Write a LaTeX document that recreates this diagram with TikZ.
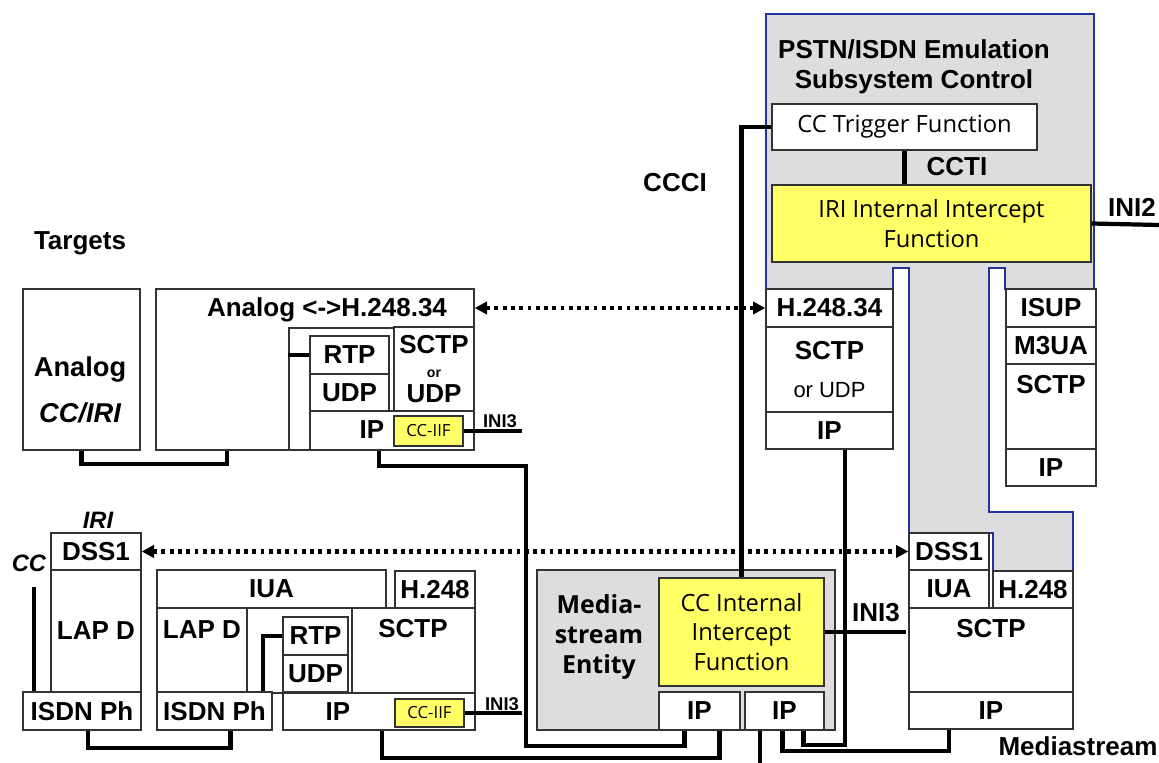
\documentclass[tikz,border=0pt]{standalone}
\usepackage{fontspec}
\setmainfont{Liberation Sans}
\newfontfamily\thinfont{Open Sans}
\usepackage{tikz}
\usetikzlibrary{arrows.meta, positioning, calc}

\definecolor{emugray}{HTML}{DDDDDD}
\definecolor{emublue}{HTML}{2233A0}
\definecolor{iifyellow}{HTML}{FFFF66}
\definecolor{boxline}{HTML}{333333}

\begin{document}
\begin{tikzpicture}[x=0.02cm, y=-0.02cm,
        cell/.style 2 args={minimum width=#1*0.02cm, minimum height=#2*0.02cm},
        stackbox/.style={draw=boxline, fill=white, line width=0.8pt, inner sep=0pt, align=center,
            font=\fontsize{14.8}{17}\selectfont\bfseries},
        iifbox/.style={stackbox, fill=iifyellow, font=\thinfont\fontsize{13.5}{17}\selectfont},
        smalliif/.style={stackbox, fill=iifyellow, font=\thinfont\fontsize{9.5}{11}\selectfont},
        tag/.style={font=\fontsize{14.8}{17}\selectfont\bfseries, inner sep=0pt, align=center},
        smalltag/.style={font=\fontsize{10.5}{12}\selectfont\bfseries, inner sep=0pt},
        link/.style={line width=2.4pt},
        signal/.style={line width=2.3pt, dash pattern=on 2.2pt off 2.5pt,
            {Triangle[length=7pt,width=7pt]}-{Triangle[length=7pt,width=7pt]}}]
    \fill[white] (0,0) rectangle (1159,763);
    \useasboundingbox (0,0) rectangle (1159,763);

    % emulation subsystem control
    \draw[emublue, fill=emugray, line width=0.6pt]
        (766,14) -- (1094,14) -- (1094,289) -- (1005,289) -- (1005,268) -- (989,268)
        -- (989,512) -- (1073,512) -- (1073,571) -- (993,571) -- (993,533) -- (909,533)
        -- (909,268) -- (893,268) -- (893,289) -- (766,289) -- cycle;
    \node[tag] (emutitle) at (914,67) {PSTN/ISDN Emulation\\Subsystem Control};
    \node[stackbox, cell={265}{46}, font=\thinfont\fontsize{13.5}{16}\selectfont] (trigger) at (904.5,127) {CC Trigger Function};
    \node[iifbox, cell={319}{77}] (iri) at (931.5,223.5) {IRI Internal Intercept\\Function};
    \node[tag] (cctilabel) at (957,167) {CCTI};
    \node[tag] (ini2label) at (1132,207) {INI2};
    \coordinate (ini2end) at (1159,225);
    \node[tag] (cccilabel) at (675,183) {CCCI};
    \node[tag] (targets) at (80,243) {Targets};

    % upper stacks
    \node[stackbox, cell={127}{38}] (h24834) at (829.5,308) {H.248.34};
    \node[stackbox, cell={127}{85}] (sctpH) at (829.5,369.5) {SCTP\\[5pt]{\mdseries\fontsize{12.5}{14}\selectfont or UDP}};
    \node[stackbox, cell={127}{37}] (ipH) at (829.5,430.5) {IP};
    \node[stackbox, cell={90}{38}] (isup) at (1051,308) {ISUP};
    \node[stackbox, cell={90}{37}] (m3ua) at (1051,345.5) {M3UA};
    \node[stackbox, cell={90}{85}] (sctpI) at (1051,406.5) {};
    \node[tag] (sctpItxt) at (1051,385) {SCTP};
    \node[stackbox, cell={90}{37}] (ipI) at (1051,467.5) {IP};

    % analog target
    \node[stackbox, cell={117}{161}] (analog) at (81.5,369.5) {};
    \node[tag, font=\fontsize{15.5}{18}\selectfont\bfseries] (analogtxt) at (80,390) {Analog\\[8pt]\itshape CC/IRI};
    \node[stackbox, cell={318}{161}] (ana248) at (315,369.5) {};
    \node[tag] (ana248txt) at (327,310) {Analog <->H.248.34};
    \node[stackbox, cell={185}{122}] (frameA) at (381.5,389) {};
    \node[stackbox, cell={79}{38}] (rtpA) at (349.5,355) {RTP};
    \node[stackbox, cell={79}{37}] (udpA) at (349.5,392.5) {UDP};
    \node[stackbox, cell={80}{84}] (sctpA) at (434,369) {SCTP\\[-3pt]{\fontsize{8}{9}\selectfont or}\\[-3pt]UDP};
    \node[stackbox, cell={164}{39}] (ipA) at (392,430.5) {};
    \node[tag] (ipAtxt) at (372,430) {IP};
    \node[smalliif, cell={69}{30}] (ccifA) at (428.5,431) {CC-IIF};
    \node[smalltag] (ini3atxt) at (500,421) {INI3};
    \coordinate (ini3a) at (522,431);

    % isdn target
    \node[tag, font=\fontsize{13.5}{16}\selectfont\bfseries\itshape] (irilabel) at (98,520) {IRI};
    \node[tag, font=\fontsize{13.5}{16}\selectfont\bfseries\itshape] (cclabel) at (29,563) {CC};
    \coordinate (cctop) at (34,587);
    \node[stackbox, cell={90}{37}] (dss1L) at (96,551.5) {DSS1};
    \node[stackbox, cell={90}{122}] (lapdL) at (96,631) {LAP D};
    \node[stackbox, cell={118}{38}] (isdnL) at (82,711) {ISDN Ph};

    % isdn access gateway
    \node[stackbox, cell={229}{38}] (iua) at (271.5,589) {IUA};
    \node[stackbox, cell={80}{37}] (h248B) at (435,589.5) {H.248};
    \node[stackbox, cell={90}{85}] (lapdM) at (202,650.5) {};
    \node[tag] (lapdMtxt) at (202,630) {LAP D};
    \node[stackbox, cell={105}{85}] (frameB) at (299.5,650.5) {};
    \node[stackbox, cell={65}{38}] (rtpB) at (315.5,636) {RTP};
    \node[stackbox, cell={65}{37}] (udpB) at (315.5,673.5) {UDP};
    \node[stackbox, cell={123}{85}] (sctpB) at (413.5,650.5) {};
    \node[tag] (sctpBtxt) at (413,629) {SCTP};
    \node[stackbox, cell={115}{38}] (isdnM) at (214.5,711) {ISDN Ph};
    \node[stackbox, cell={192}{37}] (ipB) at (379,711.5) {};
    \node[tag] (ipBtxt) at (338,712) {IP};
    \node[smalliif, cell={69}{28}] (ccifB) at (429.5,713) {CC-IIF};
    \node[smalltag] (ini3btxt) at (502,704) {INI3};
    \coordinate (ini3b) at (522,713);

    % mediastream entity
    \node[draw=boxline, fill=emugray, line width=0.8pt, inner sep=0pt, cell={298}{160}] (msentity) at (686,650) {};
    \node[tag, font=\thinfont\fontsize{14.2}{17}\selectfont\bfseries] (mstxt) at (599,637) {Media-\\stream\\Entity};
    \node[iifbox, cell={165}{108}] (ccint) at (741.5,632) {CC Internal\\Intercept\\Function};
    \node[stackbox, cell={81}{38}] (ipMSa) at (699.5,711) {IP};
    \node[stackbox, cell={79}{38}] (ipMSb) at (784.5,711) {IP};
    \node[tag] (ini3ctxt) at (876,613) {INI3};
    \coordinate (ini3c) at (906,632);
    \coordinate (msdown) at (760,763);

    % mediastream stack
    \node[stackbox, cell={80}{37}] (dss1R) at (949,551.5) {DSS1};
    \node[stackbox, cell={80}{38}] (iuaR) at (949,589) {IUA};
    \node[stackbox, cell={80}{37}] (h248R) at (1033,589.5) {H.248};
    \node[stackbox, cell={164}{84}] (sctpR) at (991,650) {};
    \node[tag] (sctpRtxt) at (991,629) {SCTP};
    \node[stackbox, cell={164}{37}] (ipR) at (991,710.5) {IP};
    \node[tag] (mslabel) at (1078,746) {Mediastream};

    % connectors
    \draw[link] (trigger.west) -| (ccint.north);
    \draw[link] (trigger.south) -- (trigger.south |- iri.north);
    \draw[link] (iri.east) -- (ini2end);
    \draw[link] (analog.south) -- ++(0,13) -| ($(ana248.south west)+(72,0)$);
    \draw[link] (rtpA.west) -- (rtpA.west -| frameA.west);
    \draw[link] (ccifA.east) -- (ini3a);
    \draw[link] ($(ipA.south west)+(70,0)$) -- ++(0,15) -- ++(147,0)
        |- ($(ipMSa.south)+(-15,15)$) -- ($(ipMSa.south)+(-15,0)$);
    \draw[link] (cctop) -- (cctop |- isdnL.north);
    \draw[link] ($(isdnL.south)+(6,0)$) -- ++(0,17) -| ($(isdnM.south)+(16,0)$);
    \draw[link] (rtpB.west) -| ($(isdnM.north east)+(-10,0)$);
    \draw[link] (ccifB.east) -- (ini3b);
    \draw[link] ($(ipB.south west)+(100,0)$) -- ++(0,27) -| ($(ipMSa.south)+(20,0)$);
    \draw[link] (ipMSb.south -| msdown) -- (msdown);
    \draw[link] ($(ipMSb.south)+(-2,0)$) -- ++(0,20) -| ($(ipR.south west)+(41,0)$);
    \draw[link] ($(ipMSb.south)+(19,0)$) -- ++(0,14) -| ($(ipH.south west)+(80,0)$);
    \draw[link] (ccint.east) -- (ini3c);
    \draw[signal] (h24834.west -| ana248.east) -- (h24834.west);
    \draw[signal] (dss1L.east) -- (dss1R.west);
\end{tikzpicture}
\end{document}
